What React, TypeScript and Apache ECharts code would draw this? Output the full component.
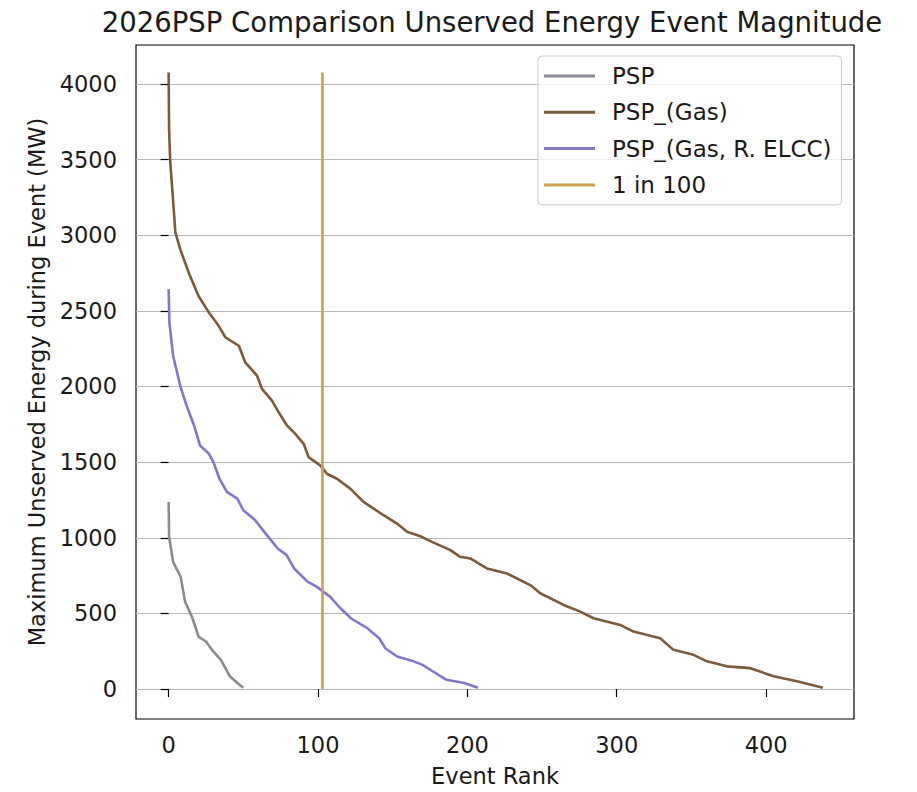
import React, { useEffect, useRef } from 'react';
import * as echarts from 'echarts';

const xTicks = [0, 100, 200, 300, 400];
const yTicks = [0, 500, 1000, 1500, 2000, 2500, 3000, 3500, 4000];

const seriesNames = ['PSP', 'PSP_(Gas)', 'PSP_(Gas, R. ELCC)', '1 in 100'];
const seriesColors = ['#878c95', '#7b5b3c', '#8377cc', '#cfa04a'];

const pspRank = [0, 0.3, 3, 8, 11, 16, 20, 25, 29, 35, 41, 46, 50];
const pspValue = [1237, 1006, 841, 743, 578, 468, 347, 314, 259, 193, 84, 40, 8];

const gasRank = [0, 0.3, 1.1, 2.3, 4.5, 7.8, 13.4, 20, 26.8, 33.5, 38, 47, 51.3, 59.2, 62.5, 69.2, 73.6, 79.2, 84.8, 90.4, 93.7, 101.5, 106, 112.7, 121.6, 130.5, 143.9, 152.9, 159.6, 168.5, 175.2, 188.6, 195.2, 201.9, 213.1, 226.5, 242.1, 248.8, 264.4, 275.6, 284.5, 302.3, 311.2, 329.1, 338, 351.4, 360.4, 373.8, 389.4, 405, 420.6, 438];
const gasValue = [4075, 3700, 3480, 3323, 3018, 2906, 2754, 2598, 2491, 2401, 2324, 2269, 2159, 2071, 1984, 1906, 1830, 1742, 1687, 1621, 1533, 1478, 1423, 1390, 1325, 1237, 1149, 1094, 1039, 1010, 978, 918, 874, 863, 797, 764, 687, 633, 556, 512, 468, 424, 380, 336, 259, 226, 183, 150, 138, 84, 51, 8];

const elccRank = [0, 0.5, 1, 3, 8, 12, 17, 21, 27, 30, 34, 39, 46, 50, 58, 64, 73, 79, 84, 93, 99, 108, 115, 122, 133, 141, 145, 153, 164, 170, 177, 186, 198, 207];
const elccValue = [2643, 2423, 2379, 2203, 1995, 1874, 1742, 1610, 1555, 1500, 1390, 1303, 1259, 1182, 1116, 1039, 929, 885, 797, 710, 677, 611, 534, 468, 402, 336, 270, 215, 183, 160, 116, 61, 40, 8];

const oneIn100Rank = [103, 103];
const oneIn100Value = [0, 4075];

const FONT = 'DejaVu Sans';
const TEXT = '#1a1a1a';

const zip = (xs: number[], ys: number[]) => xs.map((x, i) => [x, ys[i]]);

export default function App() {
  const ref = useRef<HTMLDivElement>(null);
  useEffect(() => {
    const chart = echarts.init(ref.current!, null, { renderer: 'svg' });
    const datasets = [
      zip(pspRank, pspValue),
      zip(gasRank, gasValue),
      zip(elccRank, elccValue),
      zip(oneIn100Rank, oneIn100Value),
    ];
    chart.setOption({
      animation: false,
      backgroundColor: '#ffffff',
      textStyle: { fontFamily: FONT, color: TEXT },
      title: {
        text: '2026PSP Comparison Unserved Energy Event Magnitude',
        left: 487,
        textAlign: 'center',
        top: 3,
        textStyle: { fontFamily: FONT, fontSize: 27.5, fontWeight: 'normal', color: TEXT },
      },
      grid: {
        left: 136,
        top: 45,
        right: 63,
        bottom: 71,
        show: true,
        borderColor: '#000000',
        borderWidth: 1.2,
        backgroundColor: 'transparent',
      },
      legend: {
        orient: 'vertical',
        left: 538,
        top: 56,
        width: 304,
        padding: [8, 10, 8, 6],
        itemGap: 12.3,
        itemWidth: 51,
        itemHeight: 3,
        icon: 'rect',
        backgroundColor: 'rgba(255,255,255,0.8)',
        borderColor: '#cccccc',
        borderWidth: 1,
        borderRadius: 4,
        textStyle: {
          fontFamily: FONT,
          fontSize: 23,
          color: TEXT,
          lineHeight: 24,
          padding: [0, 0, 0, 12],
        },
        data: seriesNames,
      },
      xAxis: {
        type: 'value',
        min: -21.85,
        max: 458.85,
        name: 'Event Rank',
        nameLocation: 'middle',
        nameGap: 45,
        nameTextStyle: { fontFamily: FONT, fontSize: 22.5, color: TEXT },
        axisLine: { show: false },
        axisTick: {
          show: true,
          length: 8,
          customValues: xTicks,
          lineStyle: { color: '#000000', width: 1.2 },
        },
        axisLabel: {
          customValues: xTicks,
          formatter: (v: number) => String(v),
          fontFamily: FONT,
          fontSize: 22.5,
          color: TEXT,
          margin: 14,
        },
        splitLine: { show: false },
      },
      yAxis: {
        type: 'value',
        min: -198,
        max: 4257,
        name: 'Maximum Unserved Energy during Event (MW)',
        nameLocation: 'middle',
        nameGap: 87,
        nameRotate: 90,
        nameTextStyle: { fontFamily: FONT, fontSize: 22.5, color: TEXT },
        axisLine: { show: false },
        axisTick: {
          show: true,
          length: 8,
          customValues: yTicks,
          lineStyle: { color: '#000000', width: 1.2 },
        },
        axisLabel: {
          customValues: yTicks,
          formatter: (v: number) => String(v),
          fontFamily: FONT,
          fontSize: 22.5,
          color: TEXT,
          margin: 19,
        },
        splitLine: { show: true, lineStyle: { color: '#b8b8b8', width: 1.2 } },
      },
      series: seriesNames.map((name, i) => ({
        name,
        type: 'line',
        data: datasets[i],
        showSymbol: false,
        symbol: 'none',
        color: seriesColors[i],
        lineStyle: { color: seriesColors[i], width: 2.6 },
        itemStyle: { color: seriesColors[i] },
        emphasis: { disabled: true },
        z: 2 + i,
      })),
    });
    return () => chart.dispose();
  }, []);
  return (
    <div
      ref={ref}
      style={{ position: 'fixed', left: 0, top: 0, width: 917, height: 792, background: '#ffffff' }}
    />
  );
}
